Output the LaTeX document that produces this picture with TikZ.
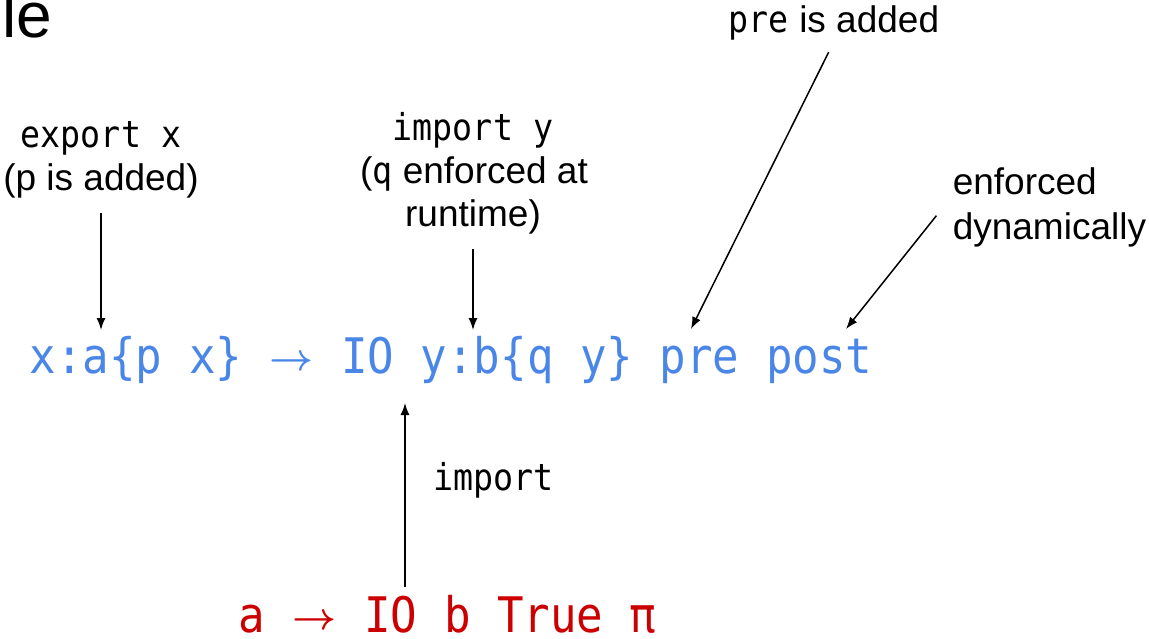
\documentclass[tikz,border=0pt]{standalone}
\usepackage{fontspec}
\setmainfont{Liberation Sans}
\newfontfamily\codefont[FakeStretch=0.9]{DejaVu Sans Mono}
\usepackage{amsmath}
\usepackage{graphicx}
\usepackage{tikz}
\usetikzlibrary{arrows.meta}
\usetikzlibrary {positioning}
\definecolor{sigblue}{HTML}{4A86E8}
\definecolor{subred}{HTML}{CC0000}
\newcommand{\fnarrow}{\makebox[46pt]{\raisebox{3pt}{\resizebox{44pt}{!}{$\boldsymbol{\rightarrow}$}}}}
\tikzset{every node/.style={inner sep=0pt},
         sig/.style={font=\fontsize{49}{60}\codefont},
         note/.style={font=\fontsize{37}{44}\selectfont},
         code/.style={font=\fontsize{37}{44}\codefont},
         >={Latex[length=12pt,width=9pt]},
         every path/.style={line width=1.5pt}}

\begin{document}
\begin{tikzpicture}[x=1pt,y=-1pt]
    \useasboundingbox (0,0) rectangle (1149,639);

    \node[anchor=base west,font=\fontsize{64}{72}\selectfont] (ttl) at (2,38) {le};

    % labels above the signature
    \node[code,anchor=base] (exp1) at (101,148) {export x}; \node[note,anchor=base]
    (exp2) at (101,191) {(p is added)};
    \node[code,anchor=base] (imp1) at (473,141) {import y}; \node[note,anchor=base]
    (imp2) at (474,184) {({\codefont q} enforced at}; \node[note,anchor=base]
    (imp3) at (473,227) {runtime)};
    \node[note,anchor=base] (pre) at (834,33) {{\codefont pre} is added};
    \node[note,anchor=base west] (enf1) at (952,195) {enforced}; \node[note,anchor=base west]
    (enf2) at (952,240) {dynamically};

    % the two signatures
    \node[sig,anchor=base west,text=sigblue] (sig) at (29,373)
    {x:a\{p x\} \fnarrow{} IO y:b\{q y\} pre post};
    \node[sig,anchor=base west,text=subred] (sub) at (238,632) {a \fnarrow{} IO b True π};
    \node[code,anchor=base west] (imp) at (433,490) {import};

    \coordinate (ta) at (101,330); \coordinate (tb) at (473,330); \coordinate (tc)
    at (691,329); \coordinate (td) at (846,329);
    \coordinate (ub) at (405,587); \coordinate (ut) at (405,403);

    \draw[->,shorten <=14pt] (exp2.south) -- (ta); \draw[->,shorten <=14pt] (imp3.south) -- (tb);
    \draw[->,shorten <=12pt] (pre.south) -- (tc); \draw[->,shorten <=25pt]
    (enf1.south west) -- (td);
    \draw[->] (ub) -- (ut);

  \end{tikzpicture}
\end{document}
